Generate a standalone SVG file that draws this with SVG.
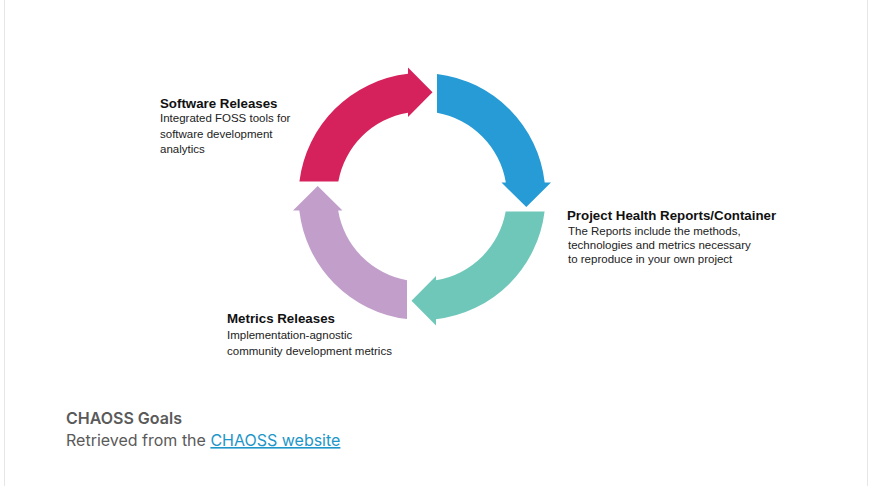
<svg xmlns="http://www.w3.org/2000/svg" width="870" height="486" viewBox="0 0 870 486">
  <defs>
    <!-- one quarter-ring arrow, centred on the ring origin; the others are rotations of it -->
    <path id="quarter-arrow" d="M-122.59,-15 A123.5,123.5 0 0 1 -14,-122.7 L-14,-129 L10.5,-104.3 L-14,-79.5 L-14,-83.84 A85,85 0 0 0 -83.67,-15 Z"/>
  </defs>
  <style>
    .title { font-family: "Liberation Sans", Arial, sans-serif; font-weight: bold; font-size: 13.3px; fill: #111; }
    .body { font-family: "Liberation Sans", Arial, sans-serif; font-size: 11.5px; fill: #222; }
    .cap-title { font-family: Inter, "Noto Sans", sans-serif; font-weight: 600; font-size: 16px; fill: #5a5a5a; }
    .cap-text { font-family: Inter, "Noto Sans", sans-serif; font-size: 16px; fill: #5a5a5a; }
    .cap-link { fill: #1e96c8; text-decoration: underline; }
    .frame { stroke: #e6e6e6; stroke-width: 1; }
  </style>

  <rect x="0" y="0" width="870" height="486" fill="#ffffff"/>
  <line class="frame" x1="4.5" y1="0" x2="4.5" y2="486"/>
  <line class="frame" x1="867.5" y1="0" x2="867.5" y2="486"/>

  <g id="connectors"/>

  <g id="software-releases">
    <use href="#quarter-arrow" transform="translate(422,196.5)" fill="#d6225c"/>
    <text class="title" x="160" y="108">Software Releases</text>
    <text class="body" x="160" y="122">Integrated FOSS tools for</text>
    <text class="body" x="160" y="137.5">software development</text>
    <text class="body" x="160" y="153">analytics</text>
  </g>

  <g id="project-health">
    <use href="#quarter-arrow" transform="translate(422,196.5) rotate(90)" fill="#279bd5"/>
    <text class="title" x="567" y="220">Project Health Reports/Container</text>
    <text class="body" x="568" y="234.5">The Reports include the methods,</text>
    <text class="body" x="568" y="248.5">technologies and metrics necessary</text>
    <text class="body" x="568" y="262.5">to reproduce in your own project</text>
  </g>

  <g id="deliver-loop">
    <use href="#quarter-arrow" transform="translate(422,196.5) rotate(180)" fill="#6fc7ba"/>
  </g>

  <g id="metrics-releases">
    <use href="#quarter-arrow" transform="translate(422,196.5) rotate(270)" fill="#c29fcb"/>
    <text class="title" x="227" y="323">Metrics Releases</text>
    <text class="body" x="227" y="338.5">Implementation-agnostic</text>
    <text class="body" x="227" y="354.5">community development metrics</text>
  </g>

  <g id="caption">
    <text class="cap-title" x="66" y="423.5">CHAOSS Goals</text>
    <text class="cap-text" x="66" y="446">Retrieved from the <tspan class="cap-link">CHAOSS website</tspan></text>
  </g>
</svg>
